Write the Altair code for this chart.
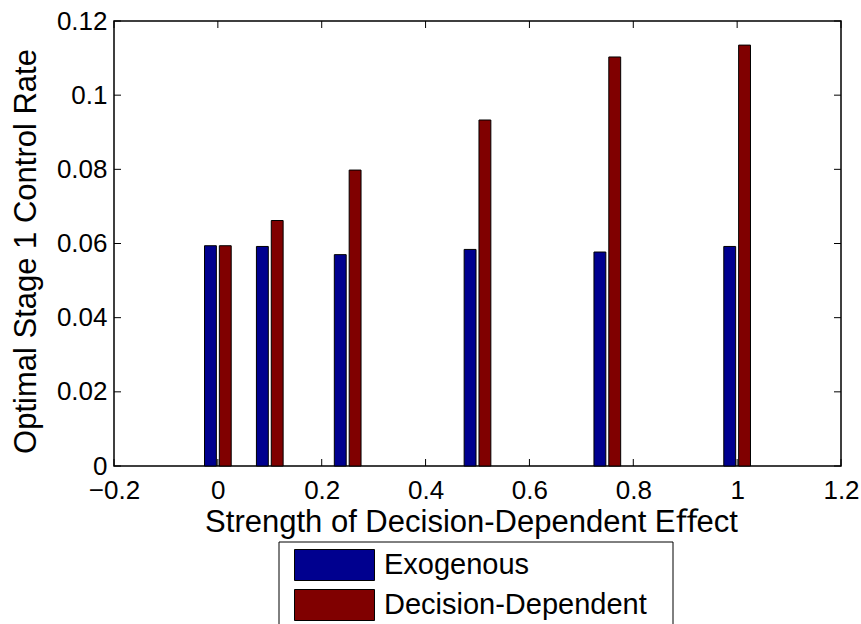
import altair as alt
import pandas as pd

# Strength of the decision-dependent effect at which the model was solved
strength = [0.0, 0.1, 0.25, 0.5, 0.75, 1.0]
# Optimal stage-1 control rate for each model
exogenous = [0.0594, 0.0592, 0.0570, 0.0584, 0.0577, 0.0592]
decision_dependent = [0.0594, 0.0662, 0.0798, 0.0933, 0.1103, 0.1135]

series_names = ["Exogenous", "Decision-Dependent"]
series_colors = ["#00008F", "#800000"]

x_ticks = [-0.2, 0.0, 0.2, 0.4, 0.6, 0.8, 1.0, 1.2]
y_ticks = [0.0, 0.02, 0.04, 0.06, 0.08, 0.10, 0.12]

x_title = "Strength of Decision-Dependent E\ufb00ect"
y_title = "Optimal Stage 1 Control Rate"

W, H = 727, 445
FONT = "Liberation Sans"

# legend placement (pixels, relative to the plot's top-left corner)
LEG_X, LEG_Y, LEG_W, LEG_H = 165, 521, 394, 100

# grouped-bar geometry: two bars share a slot sized from the closest x spacing
min_gap = 0.1
group_w = min(0.8, 2 / 3.5) * min_gap
slot = group_w / 2
half_bar = 0.8 * slot / 2
offsets = [-slot / 2, slot / 2]

rows = []
for name, off, vals in zip(series_names, offsets, [exogenous, decision_dependent]):
    for s, v in zip(strength, vals):
        rows.append({"series": name, "strength": s,
                     "x0": s + off - half_bar, "x1": s + off + half_bar,
                     "value": v})
df = pd.DataFrame(rows)

x_scale = alt.Scale(domain=[-0.2, 1.2], nice=False, zero=False)
y_scale = alt.Scale(domain=[0, 0.12], nice=False)
x_axis = alt.Axis(values=x_ticks, format=".1~f", labelPadding=11,
                  titlePadding=4, labelFlush=False, title=x_title,
                  titleFontSize=31, titleX=357)
y_axis = alt.Axis(values=y_ticks, format=".2~f", labelPadding=7,
                  titlePadding=14, title=y_title, titleFontSize=31,
                  titleY=230)

bars = alt.Chart(df).mark_rect(stroke="black", strokeWidth=1).encode(
    x=alt.X("x0:Q", scale=x_scale, axis=x_axis, title=x_title),
    x2="x1:Q",
    y=alt.Y("value:Q", scale=y_scale, axis=y_axis, title=y_title),
    y2=alt.datum(0),
    color=alt.Color(
        "series:N",
        scale=alt.Scale(domain=series_names, range=series_colors),
        sort=series_names,
        legend=alt.Legend(
            title=None, orient="none", legendX=LEG_X, legendY=LEG_Y,
            padding=7,
            symbolType="M-2.58,-1H2.58V1H-2.58Z", symbolSize=961,
            symbolStrokeColor="black", symbolStrokeWidth=1,
            symbolOffset=32.5, labelOffset=33.5, rowPadding=4,
            labelFont=FONT, labelFontSize=29, labelColor="black",
            labelLimit=400,
        ),
    ),
)

# frame around the legend
legend_frame = alt.Chart(pd.DataFrame({"k": [0]})).mark_rect(
    fill="white", fillOpacity=0, stroke="black", strokeWidth=1
).encode(
    x=alt.value(LEG_X), x2=alt.value(LEG_X + LEG_W),
    y=alt.value(LEG_Y), y2=alt.value(LEG_Y + LEG_H),
)

# inward tick marks on all four sides of the box
xt = pd.DataFrame({"x0": x_ticks})
yt = pd.DataFrame({"value": y_ticks})
tick_len = 7
rule = dict(color="black", strokeWidth=1)
ticks_bottom = alt.Chart(xt).mark_rule(**rule).encode(
    x=alt.X("x0:Q", scale=x_scale, axis=x_axis, title=x_title),
    y=alt.value(H), y2=alt.value(H - tick_len))
ticks_top = alt.Chart(xt).mark_rule(**rule).encode(
    x=alt.X("x0:Q", scale=x_scale, axis=x_axis, title=x_title),
    y=alt.value(0), y2=alt.value(tick_len))
ticks_left = alt.Chart(yt).mark_rule(**rule).encode(
    y=alt.Y("value:Q", scale=y_scale, axis=y_axis, title=y_title),
    x=alt.value(0), x2=alt.value(tick_len))
ticks_right = alt.Chart(yt).mark_rule(**rule).encode(
    y=alt.Y("value:Q", scale=y_scale, axis=y_axis, title=y_title),
    x=alt.value(W), x2=alt.value(W - tick_len))

chart = (
    alt.layer(bars, ticks_bottom, ticks_top, ticks_left, ticks_right,
              legend_frame)
    .properties(
        width=W, height=H,
        padding={"left": 114, "top": 21, "right": 20, "bottom": 158},
        autosize=alt.AutoSizeParams(type="none"),
        background="white",
    )
    .configure_view(stroke="black", strokeWidth=1.5)
    .configure_axis(
        domain=False, ticks=False, grid=False,
        labelFont=FONT, labelFontSize=26, labelColor="black",
        titleFont=FONT, titleFontWeight="normal",
        titleColor="black",
    )
)

chart.save("out.html", embed_options={"renderer": "svg", "actions": False})
